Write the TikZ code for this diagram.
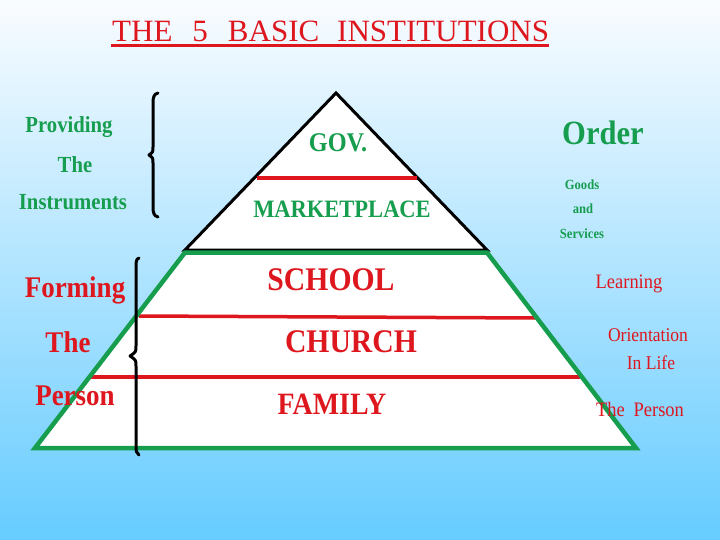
\documentclass[tikz,border=0pt]{standalone}
\usepackage{fontspec}
\setmainfont{Liberation Serif}
\newfontfamily\condf[FakeStretch=0.9]{Liberation Serif}
\newcommand\fsz[1]{\fontsize{#1}{#1}\selectfont}
\definecolor{myred}{RGB}{222,22,30}
\definecolor{mygreen}{RGB}{22,158,78}
\definecolor{skyb}{RGB}{102,204,255}
\definecolor{skytop}{RGB}{250,252,255}
\tikzset{
  glabel/.style={text=mygreen, inner sep=0pt, anchor=base},
  rlabel/.style={text=myred, inner sep=0pt, anchor=base},
  redline/.style={draw=myred, line width=3.5pt},
  bracepath/.style={draw=black, line width=3pt, line cap=round, line join=round},
}
\begin{document}
\begin{tikzpicture}[x=1pt,y=-1pt]
\useasboundingbox (0,0) rectangle (720,540);
\shade[top color=skytop, bottom color=skyb] (0,0) rectangle (720,540);

% title
\node[anchor=base west, inner sep=0pt, text=myred, font=\fsz{31}] (title) at (112,42)
  {THE\hspace{20pt}5\hspace{20pt}BASIC\hspace{18pt}INSTITUTIONS};
\draw[myred, line width=3pt] (111,45.5) -- (549,45.5);

% pyramid
\coordinate (apex) at (336,93);
\coordinate (tl) at (185,250);
\coordinate (tr) at (487,250);
\coordinate (gl) at (185,252.5);
\coordinate (gr) at (487,252.5);
\coordinate (bl) at (35,448);
\coordinate (br) at (636,448);
\fill[white] (gl) -- (gr) -- (br) -- (bl) -- cycle;
\draw[black, line width=3pt, fill=white, line join=miter] (apex) -- (tr) -- (tl) -- cycle;
\draw[redline] (257,178) -- (417,178);
\draw[redline] (139,316) -- (535,318);
\draw[redline] (91,377) -- (580,377);
\draw[mygreen, line width=4.5pt, line join=miter] (gl) -- (gr) -- (br) -- (bl) -- cycle;

% braces
\draw[bracepath] (158,93) .. controls (154,94) and (153,97) .. (153,103) -- (153,147)
  .. controls (153,152) .. (149,155) .. controls (153,158) .. (153,163) -- (153,207)
  .. controls (153,213) and (154,216) .. (158,217);
\draw[bracepath] (139,258) .. controls (136,259) and (136,262) .. (136,268) -- (136,346)
  .. controls (136,352) .. (130,356) .. controls (136,360) .. (136,366) -- (136,445)
  .. controls (136,451) and (136,453) .. (139,455);

% left labels
\node[glabel, font=\condf\bfseries\fsz{23}] (prov) at (69,133) {Providing};
\node[glabel, font=\condf\bfseries\fsz{23}] (the1) at (75,173) {The};
\node[glabel, font=\condf\bfseries\fsz{23}] (instr) at (73,210) {Instruments};
\node[rlabel, font=\condf\bfseries\fsz{30}] (form) at (75,297) {Forming};
\node[rlabel, font=\condf\bfseries\fsz{30}] (the2) at (68,352) {The};
\node[rlabel, font=\condf\bfseries\fsz{30}] (pers) at (75,405) {Person};

% pyramid labels
\node[glabel, font=\condf\bfseries\fsz{27}] (gov) at (338,152) {GOV.};
\node[glabel, font=\condf\bfseries\fsz{25}] (market) at (342,218) {MARKETPLACE};
\node[rlabel, font=\condf\bfseries\fsz{33}] (school) at (331,290) {SCHOOL};
\node[rlabel, font=\condf\bfseries\fsz{33}] (church) at (351,352) {CHURCH};
\node[rlabel, font=\condf\bfseries\fsz{31}] (family) at (332,414) {FAMILY};

% right labels
\node[glabel, font=\condf\bfseries\fsz{34}] (order) at (603,145) {Order};
\node[glabel, font=\condf\bfseries\fsz{14}] (goods) at (582,190) {Goods};
\node[glabel, font=\condf\bfseries\fsz{14}] (and) at (583,214) {and};
\node[glabel, font=\condf\bfseries\fsz{14}] (serv) at (582,238) {Services};
\node[rlabel, font=\condf\fsz{20.5}] (learn) at (629,288) {Learning};
\node[rlabel, font=\condf\fsz{19.5}] (orient) at (648,341) {Orientation};
\node[rlabel, font=\condf\fsz{19.5}] (life) at (651,369) {In Life};
\node[rlabel, font=\condf\fsz{20.5}] (tperson) at (640,416) {The\hspace{9pt}Person};
\end{tikzpicture}
\end{document}
